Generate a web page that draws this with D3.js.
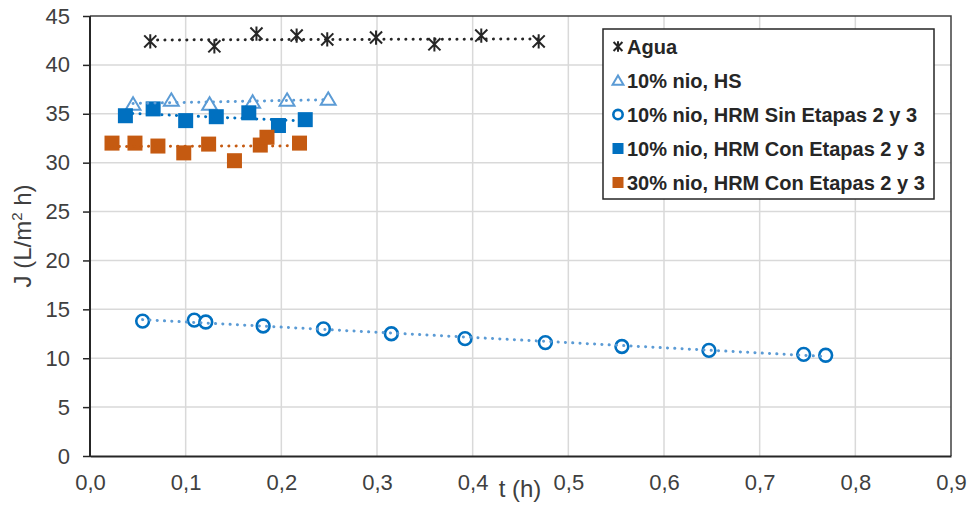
<!DOCTYPE html>
<html>
  <head>
    <title>Flux vs time</title>
    <style>
    body {
        margin: 0px;
        overflow: hidden;
        background: white;
    }

    text {
        font-family: "Liberation Sans", Arial, sans-serif;
    }

    .legend text {
        font-size: 20px;
        font-weight: bold;
        fill: #262626;
    }
    </style>
    <script src="https://d3js.org/d3.v7.min.js"></script>
  </head>
  <body>

    <svg width="971" height="512"></svg>

    <script>
        // series data: t (h) and J (L/m2 h)
        const aguaT = [0.063, 0.130, 0.174, 0.216, 0.248, 0.299, 0.360, 0.409, 0.469];
        const aguaJ = [42.4, 41.9, 43.2, 43.0, 42.6, 42.8, 42.1, 43.0, 42.4];

        const hsT = [0.045, 0.085, 0.125, 0.170, 0.206, 0.249];
        const hsJ = [36.0, 36.4, 36.0, 36.2, 36.4, 36.5];

        const sinT = [0.055, 0.109, 0.121, 0.181, 0.244, 0.315, 0.392, 0.476, 0.556, 0.647, 0.746, 0.769];
        const sinJ = [13.8, 13.9, 13.7, 13.3, 13.0, 12.5, 12.0, 11.6, 11.2, 10.8, 10.4, 10.3];

        const con10T = [0.037, 0.066, 0.100, 0.132, 0.166, 0.197, 0.225];
        const con10J = [34.8, 35.5, 34.3, 34.7, 35.1, 33.8, 34.4];

        const con30T = [0.023, 0.047, 0.071, 0.098, 0.124, 0.151, 0.178, 0.185, 0.219];
        const con30J = [32.0, 32.0, 31.7, 31.0, 31.9, 30.2, 31.8, 32.6, 32.0];

        const seriesNames = ['Agua', '10% nio, HS', '10% nio, HRM Sin Etapas 2 y 3',
                             '10% nio, HRM Con Etapas 2 y 3', '30% nio, HRM Con Etapas 2 y 3'];

        const xTicks = [0, 0.1, 0.2, 0.3, 0.4, 0.5, 0.6, 0.7, 0.8, 0.9];
        const yTicks = [0, 5, 10, 15, 20, 25, 30, 35, 40, 45];

        const svg = d3.select('svg');

        const margin = { top: 16, left: 90 };
        const innerWidth = 951 - margin.left;
        const innerHeight = 456 - margin.top;

        const xScale = d3.scaleLinear().domain([0, 0.9]).range([0, innerWidth]);
        const yScale = d3.scaleLinear().domain([0, 45]).range([innerHeight, 0]);

        const g = svg.append('g')
            .attr('transform', `translate(${margin.left},${margin.top})`);

        //gridlines
        g.selectAll('.hgrid').data(yTicks.slice(1, -1))
            .enter().append('line')
                .attr('x1', 0).attr('x2', innerWidth)
                .attr('y1', d => yScale(d)).attr('y2', d => yScale(d))
                .attr('stroke', '#D9D9D9').attr('stroke-width', 1.5);
        g.selectAll('.vgrid').data(xTicks.slice(1, -1))
            .enter().append('line')
                .attr('y1', 0).attr('y2', innerHeight)
                .attr('x1', d => xScale(d)).attr('x2', d => xScale(d))
                .attr('stroke', '#D9D9D9').attr('stroke-width', 1.5);

        //plot border top and right
        g.append('path')
            .attr('d', `M0,0H${innerWidth}V${innerHeight}`)
            .attr('fill', 'none').attr('stroke', '#404040').attr('stroke-width', 1.5);

        //axes
        const fmt = d => d3.format('.1f')(d).replace('.', ',');
        const xAxis = d3.axisBottom(xScale).tickValues(xTicks).tickFormat(fmt).tickSize(0).tickPadding(18);
        const yAxis = d3.axisLeft(yScale).tickValues(yTicks).tickFormat(d3.format('d')).tickSize(7).tickPadding(13);

        const xAxisG = g.append('g').attr('transform', `translate(0,${innerHeight})`).call(xAxis);
        xAxisG.select('.domain').attr('stroke', '#262626').attr('stroke-width', 2);

        const yAxisG = g.append('g').call(yAxis);
        yAxisG.select('.domain').attr('stroke', '#262626').attr('stroke-width', 2).attr('d', `M0,${innerHeight + 1}V0`);
        yAxisG.selectAll('.tick line').attr('stroke', '#262626').attr('stroke-width', 1.5);

        g.selectAll('.tick text')
            .attr('font-family', null).attr('font-size', null)
            .style('font-size', '22px')
            .style('fill', '#404040');

        //axis labels
        svg.append('text')
            .attr('x', 520).attr('y', 497)
            .attr('text-anchor', 'middle')
            .style('font-size', '24px').style('fill', '#404040')
            .text('t (h)');

        const yLab = svg.append('text')
            .attr('transform', 'translate(31,236) rotate(-90)')
            .attr('text-anchor', 'middle')
            .style('font-size', '24px').style('fill', '#404040');
        yLab.append('tspan').text('J (L/m');
        yLab.append('tspan').attr('dy', -9).style('font-size', '15px').text('2');
        yLab.append('tspan').attr('dy', 9).text(' h)');

        //marker shapes
        const star = s => `M0,${-s}V${s}M${-s * 0.85},${-s * 0.85}L${s * 0.85},${s * 0.85}M${-s * 0.85},${s * 0.85}L${s * 0.85},${-s * 0.85}`;
        const tri = s => `M0,${-s}L${s * 1.1},${s * 0.85}H${-s * 1.1}Z`;

        const series = [
            { name: seriesNames[0], t: aguaT, j: aguaJ, line: '#262626', kind: 'star', color: '#262626' },
            { name: seriesNames[1], t: hsT, j: hsJ, line: '#5B9BD5', kind: 'tri', color: '#5B9BD5' },
            { name: seriesNames[2], t: sinT, j: sinJ, line: '#5B9BD5', kind: 'circle', color: '#0070C0' },
            { name: seriesNames[3], t: con10T, j: con10J, line: '#0070C0', kind: 'square', color: '#0070C0' },
            { name: seriesNames[4], t: con30T, j: con30J, line: '#C55A11', kind: 'square', color: '#C55A11' }
        ];

        function drawMarker(sel, kind, color, size) {
            if (kind === 'star') {
                sel.append('path').attr('d', star(size * 0.95))
                    .attr('stroke', color).attr('stroke-width', 2).attr('fill', 'none');
            } else if (kind === 'tri') {
                sel.append('path').attr('d', tri(size * 0.9))
                    .attr('stroke', color).attr('stroke-width', 2).attr('fill', 'white');
            } else if (kind === 'circle') {
                sel.append('circle').attr('r', size * 0.85)
                    .attr('stroke', color).attr('stroke-width', 2.6).attr('fill', 'white');
            } else {
                sel.append('rect').attr('x', -size).attr('y', -size)
                    .attr('width', size * 2).attr('height', size * 2)
                    .attr('fill', color);
            }
        }

        //linear trendline from data
        function trend(t, j) {
            const n = t.length;
            const mt = d3.mean(t), mj = d3.mean(j);
            let sxy = 0, sxx = 0;
            for (let i = 0; i < n; i++) {
                sxy += (t[i] - mt) * (j[i] - mj);
                sxx += (t[i] - mt) * (t[i] - mt);
            }
            const b = sxy / sxx;
            const a = mj - b * mt;
            const x0 = d3.min(t), x1 = d3.max(t);
            return [[x0, a + b * x0], [x1, a + b * x1]];
        }

        series.forEach(s => {
            const pts = s.t.map((t, i) => ({ t: t, j: s.j[i] }));
            g.append('g').selectAll('g').data(pts)
                .enter().append('g')
                    .attr('transform', d => `translate(${xScale(d.t)},${yScale(d.j)})`)
                    .each(function() { drawMarker(d3.select(this), s.kind, s.color, 7.5); });
        });

        series.forEach(s => {
            const tl = trend(s.t, s.j);
            g.append('path')
                .attr('d', d3.line().x(d => xScale(d[0])).y(d => yScale(d[1]))(tl))
                .attr('stroke', s.line).attr('stroke-width', 3)
                .attr('stroke-linecap', 'round').attr('stroke-dasharray', '0.1 7.2')
                .attr('fill', 'none');
        });

        //legend
        const legend = svg.append('g').attr('class', 'legend');
        legend.append('rect')
            .attr('x', 603).attr('y', 29).attr('width', 331).attr('height', 170)
            .attr('fill', 'white').attr('stroke', '#262626').attr('stroke-width', 1.5);

        const rows = legend.selectAll('.row').data(series)
            .enter().append('g')
                .attr('transform', (d, i) => `translate(618,${46.5 + i * 34})`);
        rows.each(function(d) { drawMarker(d3.select(this), d.kind, d.color, 5.5); });
        rows.append('text')
            .attr('x', 9).attr('y', 7)
            .text(d => d.name);
    </script>
  </body>
</html>
